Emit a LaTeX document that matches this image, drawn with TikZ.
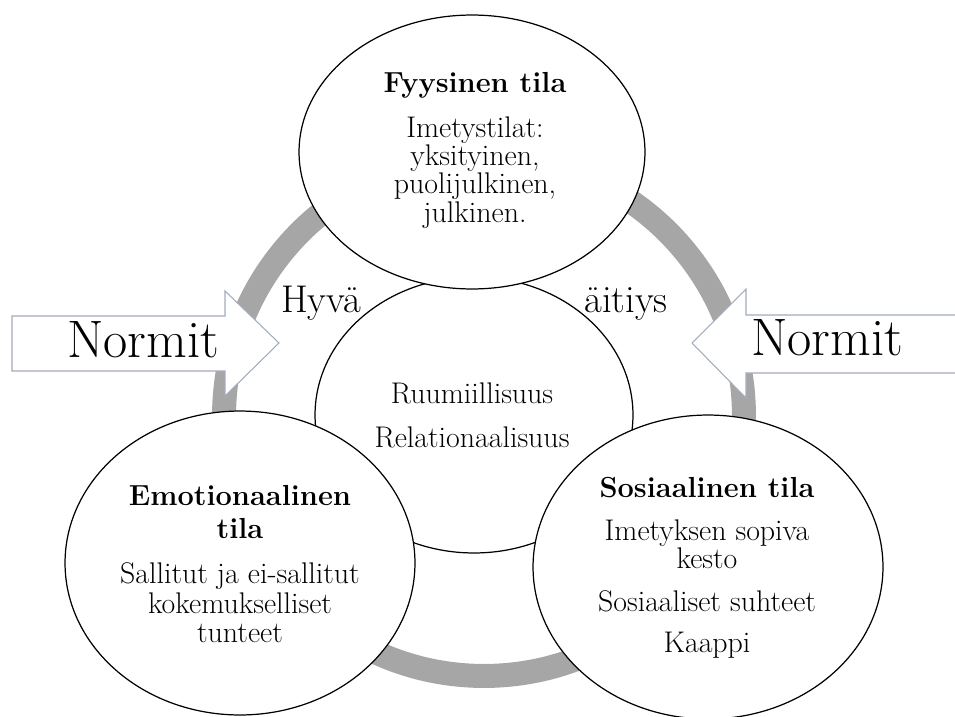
\documentclass[tikz,border=0pt]{standalone}
\usetikzlibrary{shapes.geometric}
\definecolor{ringgray}{HTML}{A6A6A6}
\definecolor{arrowline}{HTML}{A3ACBD}
\tikzset{
  zone/.style={ellipse, draw, fill=white, line width=0.7pt, inner sep=0pt},
  txt/.style={anchor=base, inner sep=0pt, font=\fontsize{17}{19}\selectfont},
  head/.style={anchor=base, inner sep=0pt, font=\fontsize{16.5}{19}\selectfont\bfseries},
  mid/.style={anchor=base, inner sep=0pt, font=\fontsize{22}{24}\selectfont},
  big/.style={anchor=base, inner sep=0pt, font=\fontsize{30}{33}\selectfont},
  normarrow/.style={draw=arrowline, fill=white, line width=0.6pt, line join=miter}
}
\begin{document}
\begin{tikzpicture}[x=0.02cm, y=-0.02cm]
\useasboundingbox (0,0) rectangle (955,716);
\node[circle, draw=ringgray, line width=0.48cm, minimum size=10.4cm] (ring) at (484,416){};
\draw[normarrow] (12,316) -- (225,316) -- (225,291) -- (279,343) -- (225,396) -- (225,371) -- (12,371) -- cycle;
\draw[normarrow] (957,315) -- (746,315) -- (746,289) -- (692,343) -- (746,398) -- (746,373) -- (957,373) -- cycle;
\node[big] (norml) at (143,357){Normit};
\node[big] (normr) at (827,355){Normit};
\node[mid] (hyva) at (321,312){Hyvä};
\node[mid] (aitiys) at (626,312){äitiys};
\node[zone, minimum width=6.36cm, minimum height=5.52cm] (keskus) at (474,415){};
\node[zone, minimum width=7cm, minimum height=6.08cm] (emo) at (240,563){};
\node[zone, minimum width=7cm, minimum height=6.08cm] (sosi) at (708,567){};
\node[zone, minimum width=6.92cm, minimum height=5.48cm] (fyys) at (472,152){};
\node[txt] (k1) at (472,403){Ruumiillisuus};
\node[txt] (k2) at (472,447){Relationaalisuus};
\node[head] (f0) at (475,93){Fyysinen tila};
\node[txt] (f1) at (475,138){Imetystilat:};
\node[txt] (f2) at (475,166){yksityinen,};
\node[txt] (f3) at (475,194){puolijulkinen,};
\node[txt] (f4) at (475,222){julkinen.};
\node[head] (e0) at (240,505){Emotionaalinen};
\node[head] (e1) at (240,538){tila};
\node[txt] (e2) at (240,583){Sallitut ja ei-sallitut};
\node[txt] (e3) at (240,613){kokemukselliset};
\node[txt] (e4) at (240,642){tunteet};
\node[head] (s0) at (707,497){Sosiaalinen tila};
\node[txt] (s1) at (707,540){Imetyksen sopiva};
\node[txt] (s2) at (707,568){kesto};
\node[txt] (s3) at (707,611){Sosiaaliset suhteet};
\node[txt] (s4) at (707,652){Kaappi};
\end{tikzpicture}
\end{document}
